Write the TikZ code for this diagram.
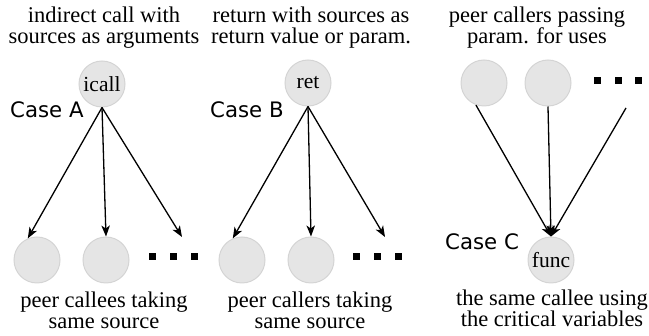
\documentclass[tikz,border=0pt]{standalone}
\usepackage{fontspec}
\setmainfont{Liberation Serif}
\newfontfamily\casefont{DejaVu Sans}
\usetikzlibrary{arrows.meta}
\begin{document}
\begin{tikzpicture}[x=1pt,y=-1pt,
  circ/.style={circle,draw=black!17,fill=black!10,line width=1pt,minimum size=46pt,inner sep=0pt,font=\fontsize{21.5}{22}\selectfont},
  conn/.style={line width=1.3pt,-{Stealth[length=11pt,width=8.5pt,inset=3pt]}},
  toplbl/.style={align=center,anchor=base,font=\fontsize{22.5}{21}\selectfont,inner sep=0pt},
  botlbl/.style={align=center,anchor=base,font=\fontsize{22.5}{21}\selectfont,inner sep=0pt},
  casel/.style={anchor=base west,inner sep=0pt,font=\casefont\fontsize{21.3}{22}\selectfont},
  sq/.style={fill=black,minimum size=7pt,inner sep=0pt}]
\useasboundingbox (0,0) rectangle (649,336);
% Case A (second-line baselines given)
\node[toplbl] (ta) at (104,44) {indirect call with\\sources as arguments};
\node[circ] (icall) at (102,84) {icall};
\node[casel] (casea) at (10,118) {Case A};
\node[circ] (a1) at (37,260) {};
\node[circ] (a2) at (106,260) {};
\node[sq] (ad1) at (152,257) {};
\node[sq] (ad2) at (173,257) {};
\node[sq] (ad3) at (194,257) {};
\coordinate (aend) at (182,237);
\draw[conn] (icall.south) -- (a1.113);
\draw[conn] (icall.south) -- (a2.north);
\draw[conn] (icall.south) -- (aend);
\node[botlbl] (ba) at (104,329) {peer callees taking\\same source};
% Case B
\node[toplbl] (tb) at (311,44) {return with sources as\\return value or param.};
\node[circ] (ret) at (308,83) {ret};
\node[casel] (caseb) at (210,118) {Case B};
\node[circ] (b1) at (242,260) {};
\node[circ] (b2) at (311,260) {};
\node[sq] (bd1) at (356,257) {};
\node[sq] (bd2) at (377,257) {};
\node[sq] (bd3) at (398,257) {};
\coordinate (bend) at (385,237);
\draw[conn] (ret.south) -- (b1.113);
\draw[conn] (ret.south) -- (b2.north);
\draw[conn] (ret.south) -- (bend);
\node[botlbl] (bb) at (310,329) {peer callers taking\\same source};
% Case C
\node[toplbl] (tc) at (537,44) {peer callers passing\\param. for uses};
\node[circ] (c1) at (484,83) {};
\node[circ] (c2) at (548,83) {};
\node[sq] (cd1) at (597,81) {};
\node[sq] (cd2) at (618,81) {};
\node[sq] (cd3) at (638,81) {};
\coordinate (cstart) at (626,108);
\node[circ] (func) at (551,260) {func};
\node[casel] (casec) at (445,250) {Case C};
\draw[conn] (c1.250) -- (func.north);
\draw[conn] (c2.south) -- (func.north);
\draw[conn] (cstart) -- (func.north);
\node[botlbl] (bc) at (552,327) {the same callee using\\the critical variables};
\end{tikzpicture}
\end{document}
